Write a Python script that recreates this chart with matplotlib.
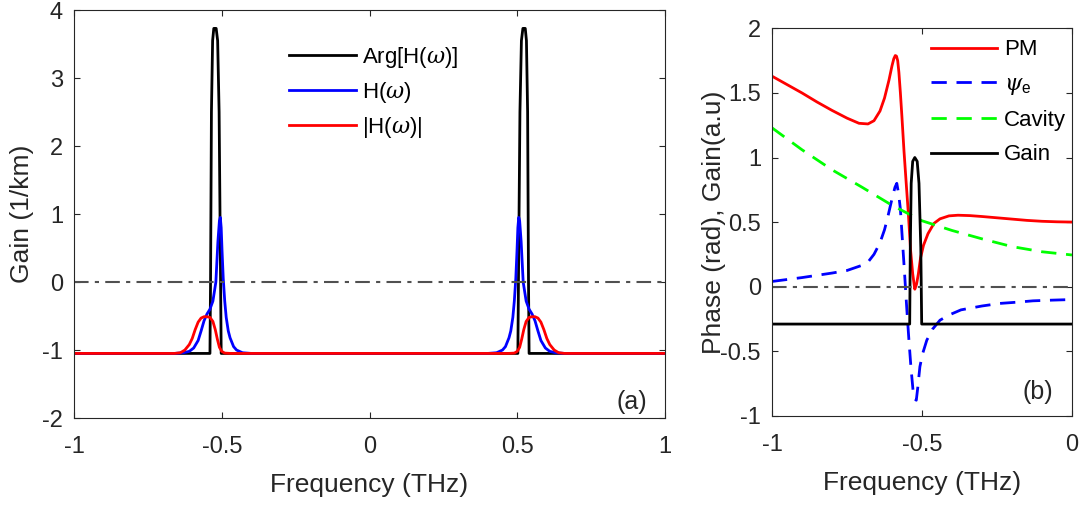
import numpy as np
import matplotlib
matplotlib.use('Agg')
import matplotlib.pyplot as plt

plt.rcParams['font.family'] = ['Liberation Sans', 'DejaVu Sans']
plt.rcParams['mathtext.fontset'] = 'custom'
plt.rcParams['mathtext.rm'] = 'Liberation Sans'
plt.rcParams['mathtext.it'] = 'DejaVu Serif:italic'
plt.rcParams['axes.unicode_minus'] = False

# ---- panel (a) data ----
f_arg = [-1.0, -0.540, -0.538, -0.535, -0.531, -0.527, -0.519, -0.514, -0.509, -0.504, -0.502,
         0.502, 0.504, 0.509, 0.514, 0.519, 0.527, 0.531, 0.535, 0.538, 0.540, 1.0]
g_arg = [-1.05, -1.05, 0.0, 2.5, 3.55, 3.73, 3.73, 3.55, 2.5, 0.0, -1.05,
         -1.05, 0.0, 2.5, 3.55, 3.73, 3.73, 3.55, 2.5, 0.0, -1.05, -1.05]

f_H = [-1.0, -0.66, -0.63, -0.61, -0.595, -0.58, -0.57, -0.56, -0.55, -0.54, -0.53, -0.52,
       -0.513, -0.508, -0.505, -0.502, -0.499, -0.495, -0.49, -0.485, -0.478, -0.472, -0.46,
       -0.45, -0.43, -0.40,
       0.40, 0.43, 0.45, 0.46, 0.472, 0.478, 0.485, 0.49, 0.495, 0.499, 0.502, 0.505, 0.508,
       0.513, 0.52, 0.53, 0.54, 0.55, 0.56, 0.57, 0.58, 0.595, 0.61, 0.63, 0.66, 1.0]
g_H = [-1.05, -1.05, -1.04, -1.02, -0.97, -0.86, -0.72, -0.57, -0.47, -0.40, -0.28, 0.0,
       0.6, 0.9, 0.95, 0.80, 0.45, 0.05, -0.28, -0.52, -0.72, -0.82, -0.95,
       -1.0, -1.04, -1.05,
       -1.05, -1.04, -1.0, -0.95, -0.82, -0.72, -0.52, -0.28, 0.05, 0.45, 0.80, 0.95, 0.9,
       0.6, 0.0, -0.28, -0.40, -0.47, -0.57, -0.72, -0.86, -0.97, -1.02, -1.04, -1.05, -1.05]

f_absH = [-1.0, -0.66, -0.64, -0.625, -0.61, -0.60, -0.59, -0.58, -0.57, -0.56, -0.55, -0.54,
          -0.53, -0.522, -0.515, -0.508, -0.50, -0.49, -0.47, -0.44,
          0.44, 0.47, 0.49, 0.50, 0.508, 0.515, 0.522, 0.53, 0.54, 0.55, 0.56, 0.57, 0.58,
          0.59, 0.60, 0.61, 0.625, 0.64, 0.66, 1.0]
g_absH = [-1.05, -1.05, -1.04, -1.0, -0.92, -0.83, -0.70, -0.59, -0.53, -0.51, -0.51, -0.52,
          -0.58, -0.70, -0.84, -0.96, -1.02, -1.045, -1.05, -1.05,
          -1.05, -1.05, -1.045, -1.02, -0.96, -0.84, -0.70, -0.58, -0.52, -0.51, -0.51, -0.53,
          -0.59, -0.70, -0.83, -0.92, -1.0, -1.04, -1.05, -1.05]

# ---- panel (b) data ----
f_pm = [-1.0, -0.95, -0.9, -0.85, -0.8, -0.75, -0.71, -0.68, -0.66, -0.64, -0.625, -0.61,
        -0.60, -0.594, -0.589, -0.585, -0.581, -0.577, -0.572, -0.567, -0.56, -0.552, -0.545,
        -0.538, -0.531, -0.524, -0.518, -0.512, -0.505, -0.495, -0.48, -0.46, -0.44, -0.41,
        -0.38, -0.34, -0.3, -0.25, -0.2, -0.15, -0.1, -0.05, 0.0]
g_pm = [1.63, 1.565, 1.50, 1.43, 1.365, 1.305, 1.265, 1.26, 1.285, 1.36, 1.46, 1.60,
        1.71, 1.765, 1.79, 1.785, 1.75, 1.66, 1.50, 1.32, 1.05, 0.78, 0.55,
        0.28, 0.10, -0.02, 0.02, 0.10, 0.22, 0.32, 0.41, 0.49, 0.525, 0.548,
        0.553, 0.55, 0.543, 0.533, 0.523, 0.513, 0.506, 0.502, 0.50]

f_psi = [-1.0, -0.9, -0.8, -0.75, -0.70, -0.68, -0.66, -0.64, -0.625, -0.615, -0.60, -0.59,
         -0.584, -0.578, -0.572, -0.565, -0.558, -0.551, -0.544, -0.537, -0.53, -0.524,
         -0.519, -0.514, -0.507, -0.498, -0.484, -0.465, -0.44, -0.41, -0.37, -0.3, -0.24,
         -0.18, -0.13, -0.07, 0.0]
g_psi = [0.04, 0.07, 0.105, 0.125, 0.165, 0.19, 0.25, 0.34, 0.44, 0.53, 0.68, 0.77,
         0.80, 0.72, 0.60, 0.35, 0.10, -0.16, -0.40, -0.62, -0.80, -0.87,
         -0.88, -0.78, -0.62, -0.52, -0.415, -0.33, -0.26, -0.22, -0.18, -0.15, -0.13,
         -0.12, -0.11, -0.105, -0.10]

f_cav = [-1.0, -0.9, -0.8, -0.7, -0.6, -0.5, -0.4, -0.3, -0.2, -0.1, 0.0]
g_cav = [1.23, 1.06, 0.905, 0.77, 0.63, 0.51, 0.435, 0.37, 0.31, 0.27, 0.245]

f_gain = [-1.0, -0.541, -0.539, -0.536, -0.531, -0.524, -0.516, -0.510, -0.504, -0.501, 0.0]
g_gain = [-0.29, -0.29, 0.3, 0.8, 0.97, 1.0, 0.97, 0.8, 0.3, -0.29, -0.29]

xt_a = [-1, -0.5, 0, 0.5, 1]
xtl_a = ['-1', '-0.5', '0', '0.5', '1']
yt_a = [-2, -1, 0, 1, 2, 3, 4]
yt_b = [-1, -0.5, 0, 0.5, 1, 1.5, 2]
ytl_b = ['-1', '-0.5', '0', '0.5', '1', '1.5', '2']
xt_b = [-1, -0.5, 0]
xtl_b = ['-1', '-0.5', '0']

dark = '#262626'
dashdot = (0, (7, 3, 2, 3))
dashed = (0, (5.5, 3.5))

fig = plt.figure(figsize=(10.87, 5.07), dpi=100)
ax1 = fig.add_axes([0.0681, 0.1755, 0.5437, 0.8047])
ax2 = fig.add_axes([0.7102, 0.1800, 0.2760, 0.7640])

ax1.plot(f_arg, g_arg, color='k', lw=2, label=r'Arg[H($\omega$)]')
ax1.plot(f_H, g_H, color='b', lw=2, label=r'H($\omega$)')
ax1.plot(f_absH, g_absH, color='r', lw=2, label=r'|H($\omega$)|')
ax1.axhline(0, color='#505050', lw=1.5, ls=dashdot)
ax1.set_xlim(-1, 1)
ax1.set_ylim(-2, 4)
ax1.set_xticks(xt_a)
ax1.set_xticklabels(xtl_a)
ax1.set_yticks(yt_a)
ax1.set_xlabel('Frequency (THz)', fontsize=19, labelpad=11, color=dark)
ax1.set_ylabel('Gain (1/km)', fontsize=19, labelpad=6, color=dark)
ax1.text(0.944, 0.039, '(a)', transform=ax1.transAxes, ha='center', va='center',
         fontsize=18, color=dark)
ax1.legend(loc='upper left', bbox_to_anchor=(0.33, 0.963), frameon=False, fontsize=16,
           handlelength=3.0, handletextpad=0.3, labelspacing=0.45)

ax2.plot(f_pm, g_pm, color='r', lw=2, label='PM')
ax2.plot(f_psi, g_psi, color='b', lw=2, ls=dashed, label=r'$\psi_{\rm e}$')
ax2.plot(f_cav, g_cav, color='#00ff00', lw=2, ls=dashed, label='Cavity')
ax2.plot(f_gain, g_gain, color='k', lw=2, label='Gain')
ax2.axhline(0, color='#505050', lw=1.5, ls=dashdot)
ax2.set_xlim(-1, 0)
ax2.set_ylim(-1, 2)
ax2.set_xticks(xt_b)
ax2.set_xticklabels(xtl_b)
ax2.set_yticks(yt_b)
ax2.set_yticklabels(ytl_b)
ax2.set_xlabel('Frequency (THz)', fontsize=19, labelpad=11, color=dark)
ax2.set_ylabel('Phase (rad), Gain(a.u)', fontsize=19, labelpad=-4, color=dark)
ax2.text(0.887, 0.062, '(b)', transform=ax2.transAxes, ha='center', va='center',
         fontsize=18, color=dark)
ax2.legend(loc='upper right', bbox_to_anchor=(1.047, 1.023), frameon=False, fontsize=16,
           handlelength=3.0, handletextpad=0.3, labelspacing=0.6)

for ax in (ax1, ax2):
    ax.tick_params(direction='in', length=4, width=0.8, top=True, right=True,
                   labelsize=17, colors=dark)
    ax.tick_params(axis='x', pad=13)
    ax.tick_params(axis='y', pad=8)
    for s in ax.spines.values():
        s.set_color(dark)
        s.set_linewidth(0.8)

fig.savefig('out.png', dpi=100)
